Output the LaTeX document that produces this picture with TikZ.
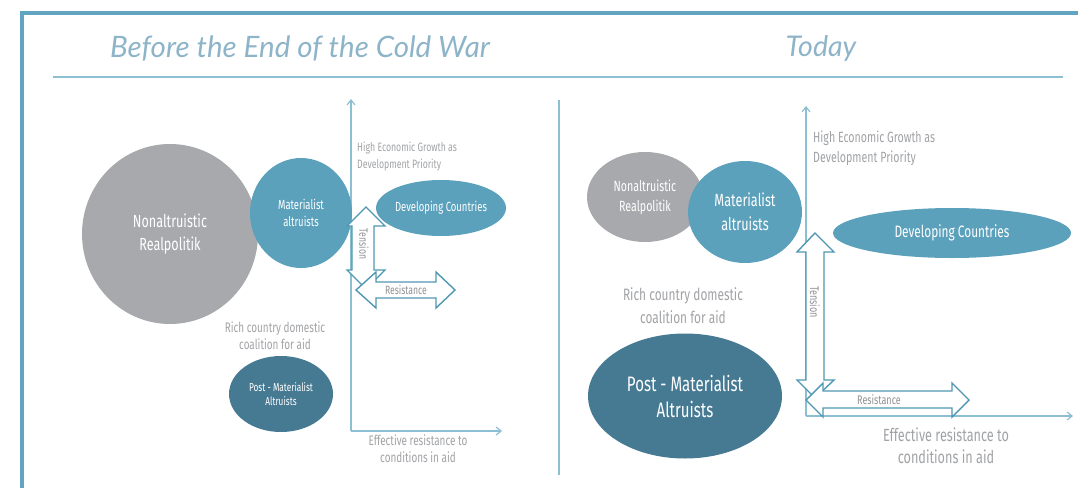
\documentclass[tikz,border=0pt]{standalone}
\usepackage{fontspec}
\setmainfont[FakeStretch=0.72]{Fira Sans}
\newfontfamily\titlefont{Lato}
\usetikzlibrary{arrows.meta,shapes.geometric}
\definecolor{frameblue}{HTML}{62A5C0}
\definecolor{lineblue}{HTML}{8DBFD2}
\definecolor{titleblue}{HTML}{8DB4C8}
\definecolor{midblue}{HTML}{5BA1BC}
\definecolor{darkblue}{HTML}{467A93}
\definecolor{greyfill}{HTML}{A7A9AC}
\definecolor{greytext}{HTML}{A0A2A5}
\definecolor{arrowblue}{HTML}{5097B4}
\tikzset{
  blob/.style={ellipse, text=white, align=center, inner sep=0pt},
  lbl/.style={text=greytext, align=center, inner sep=0pt},
  axis/.style={draw=lineblue, line width=1.2pt, -{Straight Barb[length=5pt,width=8pt]}},
  fatarrow/.style={draw=arrowblue, fill=white, line width=1.4pt, line join=miter},
}
\begin{document}
\begin{tikzpicture}[x=1pt,y=-1pt]
\useasboundingbox (0,0) rectangle (1078,487);
% frame
\draw[frameblue, line width=4pt] (1080,13) -- (22,13) -- (22,490);
% titles
\node[text=titleblue, font=\titlefont\itshape\fontsize{29.5}{32}\selectfont] (t1) at (300,48) {Before the End of the Cold War};
\node[text=titleblue, font=\titlefont\itshape\fontsize{28.5}{32}\selectfont] (t2) at (821,48) {Today};
\draw[lineblue, line width=1.5pt] (53,77) -- (1063,77);
\draw[lineblue, line width=1.5pt] (559,100) -- (559,475);

% ===== left panel =====
\coordinate (o1) at (351,431);
\coordinate (y1) at (351,99);
\coordinate (x1) at (502,431);
\draw[axis] (o1) -- (y1);
\draw[axis] (o1) -- (x1);

\node[blob, fill=greyfill, minimum width=176pt, minimum height=180pt, font=\fontsize{17.5}{23}\selectfont] (gray1) at (170,234) {Nonaltruistic\\Realpolitik};
\node[blob, fill=midblue, minimum width=102pt, minimum height=110pt, font=\fontsize{13.2}{17}\selectfont] (mat1) at (301,213) {Materialist\\altruists};
\node[blob, fill=darkblue, minimum width=104pt, minimum height=76pt, font=\fontsize{11.5}{14}\selectfont] (post1) at (281,394) {Post - Materialist\\Altruists};
\node[blob, fill=midblue, minimum width=122pt, minimum height=56pt, font=\fontsize{13.2}{15}\selectfont] (dev1) at (441,208) {Developing Countries};
\node[lbl, font=\fontsize{13.8}{17}\selectfont] (rich1) at (275,336) {Rich country domestic\\coalition for aid};
\node[lbl, align=left, anchor=west, font=\fontsize{12.1}{17}\selectfont] (hi1) at (357,157) {High Economic Growth as\\Development Priority};
\node[lbl, font=\fontsize{13.8}{17}\selectfont] (eff1) at (418,449) {Effective resistance to\\conditions in aid};

% tension (left)
\draw[fatarrow] (366,207) -- (385,226) -- (374,226) -- (374,270) -- (385,270) -- (366,289)
  -- (347,270) -- (352,270) -- (352,226) -- (347,226) -- cycle;
\node[lbl, rotate=-90, text=greytext!90!black, font=\fontsize{12}{13}\selectfont] (ten1) at (364,244) {Tension};
% resistance (left)
\draw[fatarrow] (356,290) -- (376,272) -- (376,282) -- (436,282) -- (436,272) -- (455,290)
  -- (436,308) -- (436,298) -- (376,298) -- (376,308) -- cycle;
\node[lbl, text=greytext!90!black, font=\fontsize{12}{13}\selectfont] (res1) at (406,290) {Resistance};

% ===== right panel =====
\coordinate (o2) at (806,416);
\coordinate (y2) at (806,106);
\coordinate (x2) at (1073,416);
\draw[axis] (o2) -- (y2);
\draw[axis] (o2) -- (x2);

\node[blob, fill=greyfill, minimum width=116pt, minimum height=90pt, font=\fontsize{14.8}{20}\selectfont] (gray2) at (645,197) {Nonaltruistic\\Realpolitik};
\node[blob, fill=midblue, minimum width=114pt, minimum height=102pt, font=\fontsize{17.6}{24}\selectfont] (mat2) at (745,212) {Materialist\\altruists};
\node[blob, fill=darkblue, minimum width=194pt, minimum height=125pt, font=\fontsize{20.9}{26}\selectfont] (post2) at (685,396) {Post - Materialist\\Altruists};
\node[blob, fill=midblue, minimum width=238pt, minimum height=50pt, font=\fontsize{16.5}{19}\selectfont] (dev2) at (952,233) {Developing Countries};
\node[lbl, font=\fontsize{16.5}{23}\selectfont] (rich2) at (683,306) {Rich country domestic\\coalition for aid};
\node[lbl, align=left, anchor=west, font=\fontsize{14.8}{20}\selectfont] (hi2) at (813,148) {High Economic Growth as\\Development Priority};
\node[lbl, font=\fontsize{17.6}{22}\selectfont] (eff2) at (946,446) {Effective resistance to\\conditions in aid};

% tension (right)
\draw[fatarrow] (815,233) -- (834,252) -- (824,252) -- (824,380) -- (834,380) -- (815,398)
  -- (797,380) -- (806,380) -- (806,252) -- (797,252) -- cycle;
\node[lbl, rotate=-90, text=greytext!90!black, font=\fontsize{12.5}{13}\selectfont] (ten2) at (815,302) {Tension};
% resistance (right)
\draw[fatarrow] (806,400) -- (823,383) -- (823,391) -- (952,391) -- (952,383) -- (969,400)
  -- (952,417) -- (952,408) -- (823,408) -- (823,417) -- cycle;
\node[lbl, text=greytext!90!black, font=\fontsize{12.5}{13}\selectfont] (res2) at (879,400) {Resistance};
\end{tikzpicture}
\end{document}
